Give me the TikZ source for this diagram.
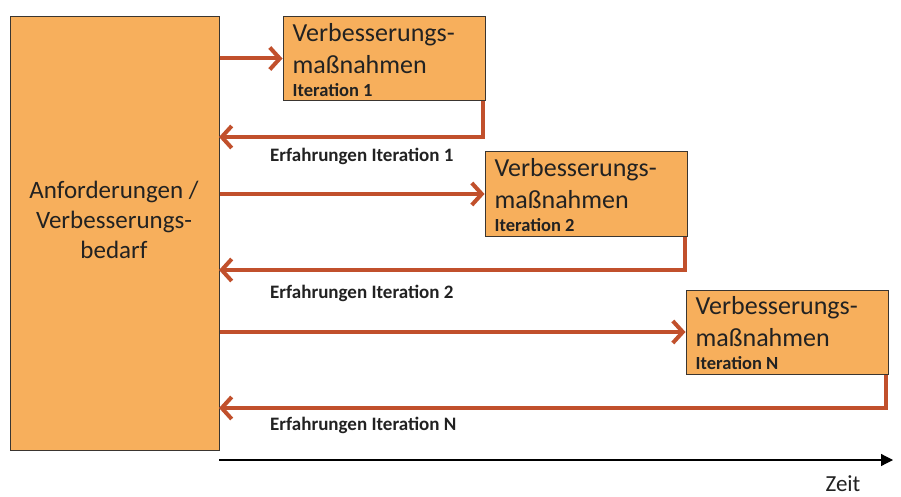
\documentclass[tikz,border=0pt]{standalone}
\usepackage{fontspec}
\setmainfont{Carlito}
\usetikzlibrary{arrows.meta}
\definecolor{boxfill}{HTML}{F7AF5C}
\definecolor{boxline}{HTML}{3A3530}
\definecolor{arrowred}{HTML}{C1502C}
\definecolor{txt}{HTML}{222222}
\tikzset{
  box/.style={draw=boxline, line width=1pt, fill=boxfill, inner sep=0pt},
  itbox/.style={box, minimum width=202pt, minimum height=84pt},
  ittext/.style={anchor=north west, inner sep=0pt, align=left, text=txt,
    font=\fontsize{26}{32}\selectfont},
  arr/.style={draw=arrowred, line width=4pt, -{Straight Barb[length=10pt,width=22pt,line width=4pt]}},
  lab/.style={anchor=west, font=\fontsize{19}{22}\selectfont\bfseries, text=txt, inner sep=0pt},
}
\newcommand{\itlabel}[1]{\fontsize{18.5}{20}\selectfont\bfseries #1}
\begin{document}
\begin{tikzpicture}[x=1pt,y=-1pt]
\useasboundingbox (0,0) rectangle (901,497);
\fill[white] (0,0) rectangle (901,497);
% main box
\node[box, minimum width=209pt, minimum height=433pt] (main) at (114.5,233.5) {};
\node[align=center, font=\fontsize{25}{30}\selectfont, text=txt, inner sep=0pt] (maintext) at (114,220)
  {Anforderungen /\\Verbesserungs-\\bedarf};
% iteration boxes
\node[itbox] (b1) at (384,58.5) {};
\node[itbox] (b2) at (586,194) {};
\node[itbox] (b3) at (787,332) {};
\node[ittext] (t1) at ([xshift=10pt,yshift=-7pt]b1.north west) {Verbesserungs-\\maßnahmen\\[-9pt]\itlabel{Iteration 1}};
\node[ittext] (t2) at ([xshift=10pt,yshift=-7pt]b2.north west) {Verbesserungs-\\maßnahmen\\[-9pt]\itlabel{Iteration 2}};
\node[ittext] (t3) at ([xshift=10pt,yshift=-7pt]b3.north west) {Verbesserungs-\\maßnahmen\\[-9pt]\itlabel{Iteration N}};
% forward arrows
\draw[arr] (b1.west -| main.east) -- (b1.west);
\draw[arr] (b2.west -| main.east) -- (b2.west);
\draw[arr] (b3.west -| main.east) -- (b3.west);
% return arrows
\coordinate (r1) at (219,137);
\coordinate (r2) at (219,270);
\coordinate (r3) at (219,408);
\draw[arr] ([xshift=-3pt]b1.south east) |- (r1);
\draw[arr] ([xshift=-3pt]b2.south east) |- (r2);
\draw[arr] ([xshift=-3pt]b3.south east) |- (r3);
% labels
\node[lab] (l1) at (270,156) {Erfahrungen Iteration 1};
\node[lab] (l2) at (270,293) {Erfahrungen Iteration 2};
\node[lab] (l3) at (270,425) {Erfahrungen Iteration N};
% time axis
\coordinate (a0) at (219,460);
\coordinate (a1) at (893,460);
\draw[line width=1.2pt, -{Triangle[length=12pt,width=12pt]}] (a0) -- (a1);
\node[font=\fontsize{23}{26}\selectfont, text=txt, inner sep=0pt] (zeit) at (843,484) {Zeit};
\end{tikzpicture}
\end{document}
